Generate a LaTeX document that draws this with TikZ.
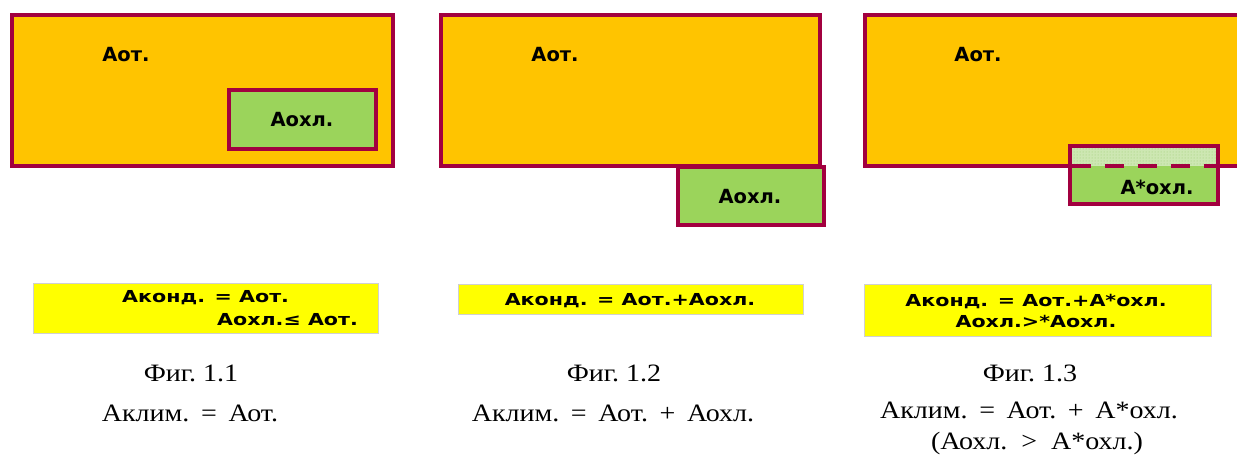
\documentclass[tikz,border=0pt]{standalone}
\usepackage{fontspec}
\setmainfont{Liberation Serif}
\newfontfamily\lblfont{DejaVu Sans}
\usetikzlibrary{patterns}
\definecolor{crim}{HTML}{A2003F}
\definecolor{orng}{HTML}{FFC400}
\definecolor{grn}{HTML}{9BD45B}
\definecolor{palegrn}{HTML}{CDE7B2}
\definecolor{dotgrn}{HTML}{9ACB72}
\definecolor{ylw}{HTML}{FFFF00}
\definecolor{ygray}{HTML}{D0D0D0}
\newcommand{\bxs}[1]{\scalebox{1.25}[1]{#1}}
\newcommand{\cps}[1]{\scalebox{1.12}[1]{#1}}
\begin{document}
\begin{tikzpicture}[x=1pt,y=-1pt,
  bigrect/.style={draw=crim, fill=orng, line width=4pt},
  smallrect/.style={draw=crim, fill=grn, line width=4pt},
  ybox/.style={draw=ygray, fill=ylw, line width=0.8pt},
  lbl/.style={inner sep=0pt, font=\lblfont\bfseries\fontsize{19.5}{22}\selectfont},
  boxtxt/.style={inner sep=0pt, font=\lblfont\bfseries\fontsize{16.5}{19}\selectfont},
  captxt/.style={inner sep=0pt, font=\fontsize{25}{30}\selectfont}
]
\useasboundingbox (0,0) rectangle (1237,455);
\clip (0,0) rectangle (1237,455);

% ---------- Fig 1.1 ----------
\path[bigrect] (12,15) rectangle (393,166);
\path[smallrect] (229,90) rectangle (376,149);
\node[lbl] (a1) at (126,55) {Аот.};
\node[lbl] (o1) at (302,120) {Аохл.};
\path[ybox] (33,283) rectangle (378,333);
\node[boxtxt, anchor=west] (k1) at (122,298) {\bxs{Аконд. = Аот.}};
\node[boxtxt, anchor=west] (k1b) at (217,320) {\bxs{Аохл.≤ Аот.}};
\node[captxt] (f1) at (191,373) {\cps{Фиг.\ 1.1}};
\node[captxt] (c1) at (190,413) {\cps{Аклим.\ \,=\, Аот.}};

% ---------- Fig 1.2 ----------
\path[bigrect] (441,15) rectangle (820,166);
\path[smallrect] (678,167) rectangle (824,225);
\node[lbl] (a2) at (555,55) {Аот.};
\node[lbl] (o2) at (750,197) {Аохл.};
\path[ybox] (458,284) rectangle (803,314);
\node[boxtxt] (k2) at (630,301) {\bxs{Аконд. = Аот.+Аохл.}};
\node[captxt] (f2) at (614,373) {\cps{Фиг.\ 1.2}};
\node[captxt] (c2) at (613,413) {\cps{Аклим.\ \,=\, Аот.\ \,+\, Аохл.}};

% ---------- Fig 1.3 ----------
\path[bigrect] (864.5,15) rectangle (1250,166);
\fill[grn] (1070,166) rectangle (1218,204);
\fill[palegrn] (1070,146) rectangle (1218,166);
\fill[pattern=dots, pattern color=dotgrn] (1070,146) rectangle (1218,166);
\draw[crim, line width=3.5pt] (1070,146) rectangle (1218,204);
\draw[crim, line width=4pt, dash pattern=on 19pt off 14pt] (1072,166) -- (1216,166);
\node[lbl] (a3) at (978,55) {Аот.};
\node[lbl] (o3) at (1157,187) {А*охл.};
\path[ybox] (864,284) rectangle (1211,336);
\node[boxtxt] (k3) at (1036,302) {\bxs{Аконд. = Аот.+А*охл.}};
\node[boxtxt] (k3b) at (1036,321) {\bxs{Аохл.>*Аохл.}};
\node[captxt] (f3) at (1030,373) {\cps{Фиг.\ 1.3}};
\node[captxt] (c3) at (1029,410) {\cps{Аклим.\ \,=\, Аот.\ \,+\, А*охл.}};
\node[captxt] (c3b) at (1037,443) {\cps{(Аохл.\ \ >\ \ А*охл.)}};
\end{tikzpicture}
\end{document}
